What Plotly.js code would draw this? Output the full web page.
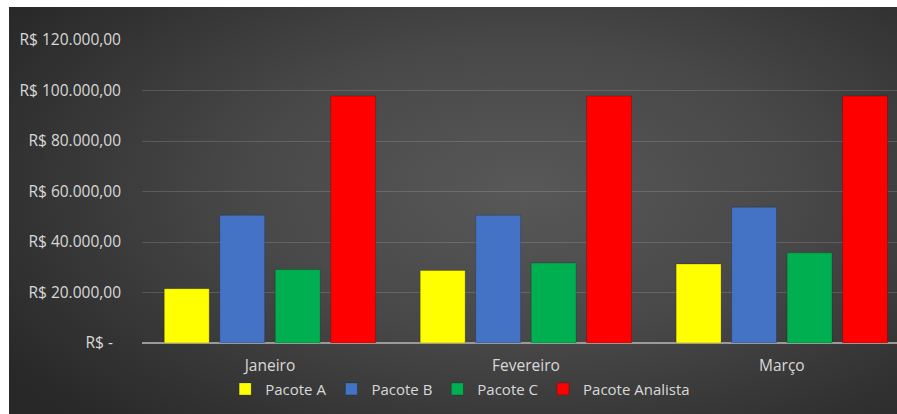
<!DOCTYPE html>
<html>
<head>
<meta charset="utf-8">
<script src="https://cdn.plot.ly/plotly-3.0.1.min.js"></script>
<style>
  html, body { margin: 0; padding: 0; background: #ffffff; width: 897px; height: 414px; overflow: hidden; }
  #bg { position: absolute; left: 9px; top: 7px; width: 888px; height: 407px;
        background: radial-gradient(ellipse 70% 80% at 58% 45%, #585858 0%, #484848 45%, #333333 80%, #282828 100%); }
  #chart { position: absolute; left: 0; top: 0; width: 897px; height: 414px; }
</style>
</head>
<body>
<div id="bg"></div>
<div id="chart"></div>
<script>
const categories = ["Janeiro", "Fevereiro", "Março"];
const seriesNames = ["Pacote A", "Pacote B", "Pacote C", "Pacote Analista"];
const pacoteA = [21500, 28700, 31300];
const pacoteB = [50600, 50600, 53800];
const pacoteC = [29100, 31700, 35700];
const pacoteAnalista = [97800, 97800, 97800];
const seriesColors = ["#ffff00", "#4472c4", "#00b050", "#ff0000"];
const tickValues = [0, 20000, 40000, 60000, 80000, 100000, 120000];
const tickLabels = ["R$ -\u00a0\u00a0", "R$ 20.000,00", "R$ 40.000,00", "R$ 60.000,00", "R$ 80.000,00", "R$ 100.000,00", "R$ 120.000,00"];

const allSeries = [pacoteA, pacoteB, pacoteC, pacoteAnalista];
const traces = allSeries.map((vals, i) => ({
  type: "bar",
  name: seriesNames[i],
  x: categories,
  y: vals,
  marker: { color: seriesColors[i], line: { color: "rgba(0,0,0,0.2)", width: 1 } },
  hoverinfo: "none"
}));

const fontFam = "'Open Sans', 'Noto Sans', sans-serif";
const txtColor = "#d9d9d9";
const layout = {
  width: 897,
  height: 414,
  paper_bgcolor: "rgba(0,0,0,0)",
  plot_bgcolor: "rgba(0,0,0,0)",
  margin: { l: 142, r: 0, t: 40, b: 71 },
  barmode: "group",
  bargap: 0.133,
  bargroupgap: 0.19,
  font: { family: fontFam, size: 15.5, color: txtColor },
  xaxis: {
    type: "category",
    range: [-0.5, 2.45],
    showgrid: false,
    zeroline: false,
    showline: false,
    ticks: "",
    tickfont: { family: fontFam, size: 15.5, color: txtColor },
    ticklabelstandoff: 11
  },
  yaxis: {
    range: [0, 120000],
    tickvals: tickValues,
    ticktext: tickLabels,
    showgrid: true,
    gridcolor: "rgba(255,255,255,0.15)",
    gridwidth: 1,
    zeroline: true,
    zerolinecolor: "#9a9a9a",
    zerolinewidth: 1.5,
    ticks: "",
    tickfont: { family: fontFam, size: 15.5, color: txtColor },
    ticklabelstandoff: 20,
    fixedrange: true
  },
  showlegend: true,
  legend: {
    orientation: "h",
    xref: "container",
    yref: "container",
    x: 0.513,
    xanchor: "center",
    y: 0.06,
    yanchor: "middle",
    font: { family: fontFam, size: 15, color: txtColor },
    bgcolor: "rgba(0,0,0,0)",
    itemwidth: 30,
    traceorder: "normal"
  }
};

Plotly.newPlot("chart", traces, layout, { staticPlot: true, displayModeBar: false });
</script>
</body>
</html>
